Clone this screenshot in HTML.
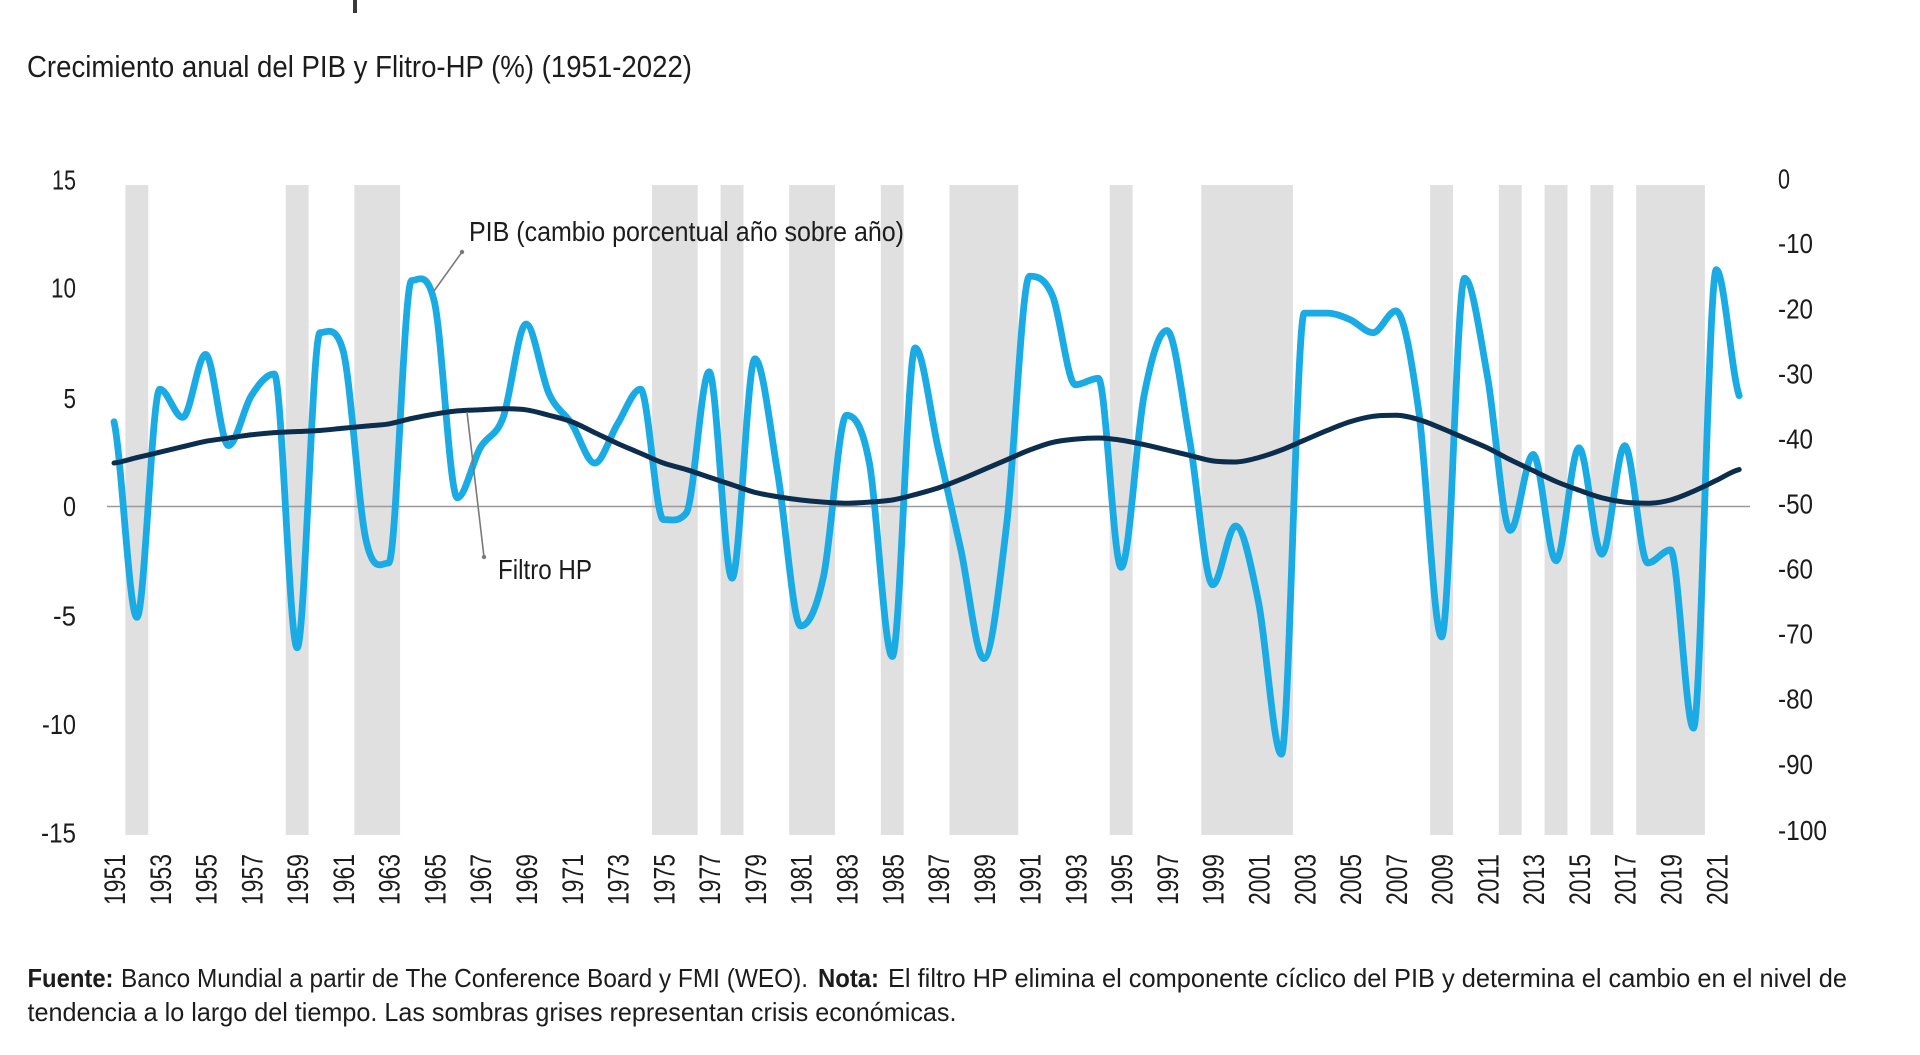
<!DOCTYPE html>
<html>
<head>
<meta charset="utf-8">
<style>
  html,body{margin:0;padding:0;background:#fff;}
  body{width:1920px;height:1055px;overflow:hidden;}
  svg{display:block;}
  text{font-family:"Liberation Sans", "DejaVu Sans", sans-serif; fill:#1c1c1c;}
</style>
</head>
<body>
<svg width="1920" height="1055" viewBox="0 0 1920 1055" xmlns="http://www.w3.org/2000/svg">
  <rect x="0" y="0" width="1920" height="1055" fill="#ffffff"/>
  <!-- cut-off glyph at top -->
  <rect x="353" y="0" width="4" height="13" fill="#3a3a3a"/>

  <!-- Title -->
  <text x="27" y="77" font-size="31" textLength="665" lengthAdjust="spacingAndGlyphs">Crecimiento anual del PIB y Flitro-HP (%) (1951-2022)</text>

  <!-- crisis bands -->
  <g fill="#e0e0e0">
    <rect x="125.4" y="185" width="22.9" height="650"/>
    <rect x="285.7" y="185" width="22.9" height="650"/>
    <rect x="354.3" y="185" width="45.8" height="650"/>
    <rect x="651.9" y="185" width="45.8" height="650"/>
    <rect x="720.6" y="185" width="22.9" height="650"/>
    <rect x="789.2" y="185" width="45.8" height="650"/>
    <rect x="880.8" y="185" width="22.9" height="650"/>
    <rect x="949.5" y="185" width="68.7" height="650"/>
    <rect x="1109.7" y="185" width="22.9" height="650"/>
    <rect x="1201.3" y="185" width="91.6" height="650"/>
    <rect x="1430.2" y="185" width="22.9" height="650"/>
    <rect x="1498.8" y="185" width="22.9" height="650"/>
    <rect x="1544.6" y="185" width="22.9" height="650"/>
    <rect x="1590.4" y="185" width="22.9" height="650"/>
    <rect x="1636.2" y="185" width="68.7" height="650"/>
  </g>

  <!-- zero line -->
  <line x1="107" y1="506.5" x2="1750" y2="506.5" stroke="#9a9a9a" stroke-width="1.6"/>

  <!-- series (data coordinates) -->
  <g transform="translate(114,506.5) scale(22.89,-21.73)">
    <path id="pib" fill="none" stroke="#1aabe4" stroke-width="6.8" stroke-linejoin="round" stroke-linecap="round" vector-effect="non-scaling-stroke"
      d="M0,3.9 L1,-5.1 2,5.4 3,4.1 4,7 5,2.8 6,5.1 7,6.1 8,-6.5 9,8 10,7.2 11,-1.5 12,-2.6 13,10.4 14,9.4 15,0.4 16,2.7 17,4.1 18,8.4 19,5.2 20,3.8 21,2 22,3.8 23,5.4 24,-0.6 25,-0.3 26,6.2 27,-3.3 28,6.8 29,1.5 30,-5.5 31,-3.2 32,4.2 33,2 34,-6.9 35,7.3 36,2.7 37,-2 38,-7 39,-0.8 40,10.6 41,9.7 42,5.6 43,5.9 44,-2.8 45,5.1 46,8.1 47,3 48,-3.6 49,-0.9 50,-4.4 51,-11.4 52,8.9 53,8.9 54,8.6 55,8 56,9 57,4.4 58,-6 59,10.5 60,6 61,-1.1 62,2.4 63,-2.5 64,2.7 65,-2.2 66,2.8 67,-2.6 68,-2 69,-10.2 70,10.9 71,5.1"/>
    <path id="hp" fill="none" stroke="#0c2e4e" stroke-width="5" stroke-linejoin="round" stroke-linecap="round" vector-effect="non-scaling-stroke"
      d="M0,2 L1,2.25 2,2.5 3,2.75 4,3 5,3.15 6,3.3 7,3.4 8,3.45 9,3.5 10,3.6 11,3.7 12,3.8 13,4.05 14,4.25 15,4.4 16,4.45 17,4.5 18,4.45 19,4.2 20,3.9 21,3.4 22,2.9 23,2.45 24,2 25,1.7 26,1.35 27,1 28,0.65 29,0.45 30,0.3 31,0.2 32,0.15 33,0.2 34,0.3 35,0.55 36,0.85 37,1.25 38,1.7 39,2.15 40,2.6 41,2.95 42,3.1 43,3.15 44,3.05 45,2.85 46,2.6 47,2.35 48,2.1 49,2.05 50,2.25 51,2.6 52,3.05 53,3.5 54,3.9 55,4.15 56,4.2 57,4 58,3.6 59,3.15 60,2.7 61,2.15 62,1.65 63,1.15 64,0.75 65,0.4 66,0.2 67,0.15 68,0.3 69,0.7 70,1.2 71,1.7"/>
  </g>

  <!-- leader lines -->
  <line x1="462" y1="252" x2="434" y2="291" stroke="#7a7a7a" stroke-width="1.6"/>
  <circle cx="462" cy="252" r="2.2" fill="#7a7a7a"/>
  <line x1="467" y1="412" x2="484" y2="557" stroke="#7a7a7a" stroke-width="1.6"/>
  <circle cx="484" cy="557" r="2.2" fill="#7a7a7a"/>

  <!-- annotations -->
  <text x="469" y="241" font-size="28" textLength="435" lengthAdjust="spacingAndGlyphs">PIB (cambio porcentual año sobre año)</text>
  <text x="498" y="579" font-size="28" textLength="94" lengthAdjust="spacingAndGlyphs">Filtro HP</text>

  <!-- left axis labels -->
  <g font-size="28" text-anchor="end">
    <text x="76" y="189.5" textLength="24" lengthAdjust="spacingAndGlyphs">15</text>
    <text x="76" y="297.6" textLength="25" lengthAdjust="spacingAndGlyphs">10</text>
    <text x="76" y="407.8" textLength="12.5" lengthAdjust="spacingAndGlyphs">5</text>
    <text x="76" y="515.9" textLength="13" lengthAdjust="spacingAndGlyphs">0</text>
    <text x="76" y="625.5" textLength="23" lengthAdjust="spacingAndGlyphs">-5</text>
    <text x="76" y="734.2" textLength="34" lengthAdjust="spacingAndGlyphs">-10</text>
    <text x="76" y="842.3" textLength="35" lengthAdjust="spacingAndGlyphs">-15</text>
  </g>

  <!-- right axis labels -->
  <g font-size="28">
    <text x="1778" y="188.5" textLength="12" lengthAdjust="spacingAndGlyphs">0</text>
    <text x="1778" y="252.8" textLength="35" lengthAdjust="spacingAndGlyphs">-10</text>
    <text x="1778" y="318.6" textLength="35" lengthAdjust="spacingAndGlyphs">-20</text>
    <text x="1778" y="383.4" textLength="35" lengthAdjust="spacingAndGlyphs">-30</text>
    <text x="1778" y="448.7" textLength="35" lengthAdjust="spacingAndGlyphs">-40</text>
    <text x="1778" y="513.5" textLength="35" lengthAdjust="spacingAndGlyphs">-50</text>
    <text x="1778" y="578.3" textLength="35" lengthAdjust="spacingAndGlyphs">-60</text>
    <text x="1778" y="643.5" textLength="35" lengthAdjust="spacingAndGlyphs">-70</text>
    <text x="1778" y="708.4" textLength="35" lengthAdjust="spacingAndGlyphs">-80</text>
    <text x="1778" y="774" textLength="35" lengthAdjust="spacingAndGlyphs">-90</text>
    <text x="1778" y="840" textLength="49" lengthAdjust="spacingAndGlyphs">-100</text>
  </g>

  <!-- x axis labels (rotated) -->
  <g font-size="30">
    <text transform="translate(125.0,905) rotate(-90)" textLength="51" lengthAdjust="spacingAndGlyphs">1951</text>
    <text transform="translate(170.8,905) rotate(-90)" textLength="51" lengthAdjust="spacingAndGlyphs">1953</text>
    <text transform="translate(216.6,905) rotate(-90)" textLength="51" lengthAdjust="spacingAndGlyphs">1955</text>
    <text transform="translate(262.3,905) rotate(-90)" textLength="51" lengthAdjust="spacingAndGlyphs">1957</text>
    <text transform="translate(308.1,905) rotate(-90)" textLength="51" lengthAdjust="spacingAndGlyphs">1959</text>
    <text transform="translate(353.9,905) rotate(-90)" textLength="51" lengthAdjust="spacingAndGlyphs">1961</text>
    <text transform="translate(399.7,905) rotate(-90)" textLength="51" lengthAdjust="spacingAndGlyphs">1963</text>
    <text transform="translate(445.5,905) rotate(-90)" textLength="51" lengthAdjust="spacingAndGlyphs">1965</text>
    <text transform="translate(491.2,905) rotate(-90)" textLength="51" lengthAdjust="spacingAndGlyphs">1967</text>
    <text transform="translate(537.0,905) rotate(-90)" textLength="51" lengthAdjust="spacingAndGlyphs">1969</text>
    <text transform="translate(582.8,905) rotate(-90)" textLength="51" lengthAdjust="spacingAndGlyphs">1971</text>
    <text transform="translate(628.6,905) rotate(-90)" textLength="51" lengthAdjust="spacingAndGlyphs">1973</text>
    <text transform="translate(674.4,905) rotate(-90)" textLength="51" lengthAdjust="spacingAndGlyphs">1975</text>
    <text transform="translate(720.1,905) rotate(-90)" textLength="51" lengthAdjust="spacingAndGlyphs">1977</text>
    <text transform="translate(765.9,905) rotate(-90)" textLength="51" lengthAdjust="spacingAndGlyphs">1979</text>
    <text transform="translate(811.7,905) rotate(-90)" textLength="51" lengthAdjust="spacingAndGlyphs">1981</text>
    <text transform="translate(857.5,905) rotate(-90)" textLength="51" lengthAdjust="spacingAndGlyphs">1983</text>
    <text transform="translate(903.3,905) rotate(-90)" textLength="51" lengthAdjust="spacingAndGlyphs">1985</text>
    <text transform="translate(949.0,905) rotate(-90)" textLength="51" lengthAdjust="spacingAndGlyphs">1987</text>
    <text transform="translate(994.8,905) rotate(-90)" textLength="51" lengthAdjust="spacingAndGlyphs">1989</text>
    <text transform="translate(1040.6,905) rotate(-90)" textLength="51" lengthAdjust="spacingAndGlyphs">1991</text>
    <text transform="translate(1086.4,905) rotate(-90)" textLength="51" lengthAdjust="spacingAndGlyphs">1993</text>
    <text transform="translate(1132.2,905) rotate(-90)" textLength="51" lengthAdjust="spacingAndGlyphs">1995</text>
    <text transform="translate(1177.9,905) rotate(-90)" textLength="51" lengthAdjust="spacingAndGlyphs">1997</text>
    <text transform="translate(1223.7,905) rotate(-90)" textLength="51" lengthAdjust="spacingAndGlyphs">1999</text>
    <text transform="translate(1269.5,905) rotate(-90)" textLength="51" lengthAdjust="spacingAndGlyphs">2001</text>
    <text transform="translate(1315.3,905) rotate(-90)" textLength="51" lengthAdjust="spacingAndGlyphs">2003</text>
    <text transform="translate(1361.1,905) rotate(-90)" textLength="51" lengthAdjust="spacingAndGlyphs">2005</text>
    <text transform="translate(1406.8,905) rotate(-90)" textLength="51" lengthAdjust="spacingAndGlyphs">2007</text>
    <text transform="translate(1452.6,905) rotate(-90)" textLength="51" lengthAdjust="spacingAndGlyphs">2009</text>
    <text transform="translate(1498.4,905) rotate(-90)" textLength="51" lengthAdjust="spacingAndGlyphs">2011</text>
    <text transform="translate(1544.2,905) rotate(-90)" textLength="51" lengthAdjust="spacingAndGlyphs">2013</text>
    <text transform="translate(1590.0,905) rotate(-90)" textLength="51" lengthAdjust="spacingAndGlyphs">2015</text>
    <text transform="translate(1635.7,905) rotate(-90)" textLength="51" lengthAdjust="spacingAndGlyphs">2017</text>
    <text transform="translate(1681.5,905) rotate(-90)" textLength="51" lengthAdjust="spacingAndGlyphs">2019</text>
    <text transform="translate(1727.3,905) rotate(-90)" textLength="51" lengthAdjust="spacingAndGlyphs">2021</text>
  </g>

  <!-- footer -->
  <g font-size="26">
    <text x="27.5" y="987" font-weight="bold" textLength="86" lengthAdjust="spacingAndGlyphs">Fuente:</text>
    <text x="121" y="987" textLength="687" lengthAdjust="spacingAndGlyphs">Banco Mundial a partir de The Conference Board y FMI (WEO).</text>
    <text x="818" y="987" font-weight="bold" textLength="61" lengthAdjust="spacingAndGlyphs">Nota:</text>
    <text x="888" y="987" textLength="959" lengthAdjust="spacingAndGlyphs">El filtro HP elimina el componente cíclico del PIB y determina el cambio en el nivel de</text>
    <text x="27.5" y="1021" textLength="929" lengthAdjust="spacingAndGlyphs">tendencia a lo largo del tiempo. Las sombras grises representan crisis económicas.</text>
  </g>
</svg>
<script>
(function(){
  var pib=[3.9,-5.1,5.4,4.1,7.0,2.8,5.1,6.1,-6.5,8.0,7.2,-1.5,-2.6,10.4,9.4,0.4,2.7,4.1,8.4,5.2,3.8,2.0,3.8,5.4,-0.6,-0.3,6.2,-3.3,6.8,1.5,-5.5,-3.2,4.2,2.0,-6.9,7.3,2.7,-2.0,-7.0,-0.8,10.6,9.7,5.6,5.9,-2.8,5.1,8.1,3.0,-3.6,-0.9,-4.4,-11.4,8.9,8.9,8.6,8.0,9.0,4.4,-6.0,10.5,6.0,-1.1,2.4,-2.5,2.7,-2.2,2.8,-2.6,-2.0,-10.2,10.9,5.1];
  var hp=[2.0,2.25,2.5,2.75,3.0,3.15,3.3,3.4,3.45,3.5,3.6,3.7,3.8,4.05,4.25,4.4,4.45,4.5,4.45,4.2,3.9,3.4,2.9,2.45,2.0,1.7,1.35,1.0,0.65,0.45,0.3,0.2,0.15,0.2,0.3,0.55,0.85,1.25,1.7,2.15,2.6,2.95,3.1,3.15,3.05,2.85,2.6,2.35,2.1,2.05,2.25,2.6,3.05,3.5,3.9,4.15,4.2,4.0,3.6,3.15,2.7,2.15,1.65,1.15,0.75,0.4,0.2,0.15,0.3,0.7,1.2,1.7];
  function smooth(a){
    var n=a.length, m=[], i;
    for(i=0;i<n;i++){
      if(i===0){ m[i]=(a[1]-a[0])*0.5; continue; }
      if(i===n-1){ m[i]=(a[n-1]-a[n-2])*0.5; continue; }
      var s0=a[i]-a[i-1], s1=a[i+1]-a[i];
      if(s0*s1<=0){ m[i]=0; }
      else {
        var t=(a[i+1]-a[i-1])/2;
        var lim=4.5*Math.min(Math.abs(s0),Math.abs(s1));
        if(Math.abs(t)>lim) t=(t>0?1:-1)*lim;
        m[i]=t;
      }
    }
    var d='M0,'+a[0];
    for(i=0;i<n-1;i++){
      var c1x=i+1/3, c1y=a[i]+m[i]/3;
      var c2x=i+1-1/3, c2y=a[i+1]-m[i+1]/3;
      d+=' C'+c1x.toFixed(3)+','+c1y.toFixed(3)+' '+c2x.toFixed(3)+','+c2y.toFixed(3)+' '+(i+1)+','+a[i+1];
    }
    return d;
  }
  try{
    document.getElementById('pib').setAttribute('d',smooth(pib));
    document.getElementById('hp').setAttribute('d',smooth(hp));
  }catch(e){}
})();
</script>
</body>
</html>
